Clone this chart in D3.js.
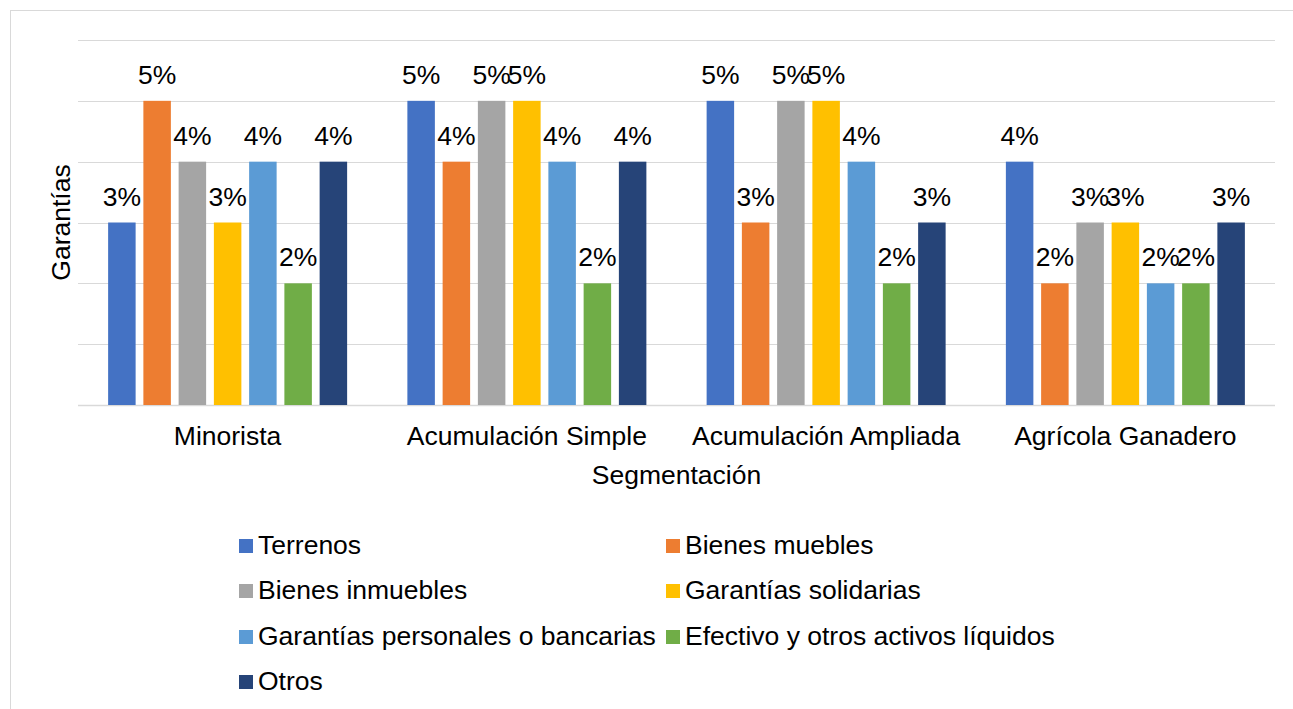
<!DOCTYPE html>
<html>
<head>
<meta charset="utf-8">
<script src="https://cdnjs.cloudflare.com/ajax/libs/d3/7.8.5/d3.min.js"></script>
<style>
  body { margin: 0; background: #fff; }
  text { font-family: "Liberation Sans", Arial, sans-serif; fill: #000; }
</style>
</head>
<body>
<svg id="chart" width="1293" height="709"></svg>
<script>
var categories = ["Minorista", "Acumulación Simple", "Acumulación Ampliada", "Agrícola Ganadero"];
var series = ["Terrenos", "Bienes muebles", "Bienes inmuebles", "Garantías solidarias",
  "Garantías personales o bancarias", "Efectivo y otros activos líquidos", "Otros"];
var colors = ["#4472C4", "#ED7D31", "#A5A5A5", "#FFC000", "#5B9BD5", "#70AD47", "#264478"];

// values in %, one array per series (order follows categories)
var terrenos    = [3, 5, 5, 4];
var muebles     = [5, 4, 3, 2];
var inmuebles   = [4, 5, 5, 3];
var solidarias  = [3, 5, 5, 3];
var personales  = [4, 4, 4, 2];
var efectivo    = [2, 2, 2, 2];
var otros       = [4, 4, 3, 3];
var yTicks = [0, 1, 2, 3, 4, 5, 6];

var seriesValues = [terrenos, muebles, inmuebles, solidarias, personales, efectivo, otros];

var fontSize = "26.5px";
var svg = d3.select("#chart");

// outer frame
svg.append("rect")
  .attr("x", 10.5).attr("y", 10.5)
  .attr("width", 1300).attr("height", 720)
  .attr("fill", "none")
  .attr("stroke", "#d9d9d9")
  .attr("stroke-width", 1);

var plot = {left: 78, right: 1275, top: 40, bottom: 405};

var x0 = d3.scaleBand()
  .domain(categories)
  .range([plot.left, plot.right])
  .padding(0);

var y = d3.scaleLinear()
  .domain([0, 6])
  .range([plot.bottom, plot.top]);

var x1 = d3.scaleBand()
  .domain(d3.range(series.length))
  .range([-119.5, 119.5])
  .paddingInner(0.22)
  .paddingOuter(0);

// gridlines
svg.append("g")
  .selectAll("line")
  .data(yTicks)
  .enter().append("line")
  .attr("x1", plot.left).attr("x2", plot.right)
  .attr("y1", function(d) { return Math.round(y(d)) + 0.5; })
  .attr("y2", function(d) { return Math.round(y(d)) + 0.5; })
  .attr("stroke", "#d9d9d9")
  .attr("stroke-width", function(d) { return d === 0 ? 1.5 : 1.2; });

// bars
var groups = svg.append("g")
  .selectAll("g")
  .data(categories)
  .enter().append("g")
  .attr("transform", function(d) { return "translate(" + (x0(d) + x0.bandwidth() / 2) + ",0)"; });

groups.each(function(cat, ci) {
  var g = d3.select(this);
  var rows = series.map(function(s, si) { return {si: si, v: seriesValues[si][ci]}; });

  g.selectAll("rect")
    .data(rows)
    .enter().append("rect")
    .attr("x", function(d) { return x1(d.si); })
    .attr("width", x1.bandwidth())
    .attr("y", function(d) { return y(d.v); })
    .attr("height", function(d) { return y(0) - y(d.v); })
    .attr("fill", function(d) { return colors[d.si]; });

  g.selectAll("text")
    .data(rows)
    .enter().append("text")
    .attr("x", function(d) { return x1(d.si) + x1.bandwidth() / 2; })
    .attr("y", function(d) { return y(d.v) - 17; })
    .attr("text-anchor", "middle")
    .style("font-size", fontSize)
    .text(function(d) { return d.v + "%"; });
});

// category labels
svg.append("g")
  .selectAll("text")
  .data(categories)
  .enter().append("text")
  .attr("x", function(d) { return x0(d) + x0.bandwidth() / 2; })
  .attr("y", 445)
  .attr("text-anchor", "middle")
  .style("font-size", fontSize)
  .text(function(d) { return d; });

// axis titles
svg.append("text")
  .attr("x", (plot.left + plot.right) / 2)
  .attr("y", 484)
  .attr("text-anchor", "middle")
  .style("font-size", fontSize)
  .text("Segmentación");

svg.append("text")
  .attr("transform", "translate(70," + ((plot.top + plot.bottom) / 2) + ") rotate(-90)")
  .attr("text-anchor", "middle")
  .style("font-size", fontSize)
  .text("Garantías");

// legend
var legendCols = [239, 666];
var legendRows = [546, 591, 637, 682];
var legend = svg.append("g")
  .selectAll("g")
  .data(series)
  .enter().append("g")
  .attr("transform", function(d, i) {
    return "translate(" + legendCols[i % 2] + "," + legendRows[Math.floor(i / 2)] + ")";
  });

legend.append("rect")
  .attr("x", 0).attr("y", -7)
  .attr("width", 14).attr("height", 14)
  .attr("fill", function(d, i) { return colors[i]; });

legend.append("text")
  .attr("x", 19)
  .attr("y", 8)
  .style("font-size", fontSize)
  .text(function(d) { return d; });
</script>
</body>
</html>
